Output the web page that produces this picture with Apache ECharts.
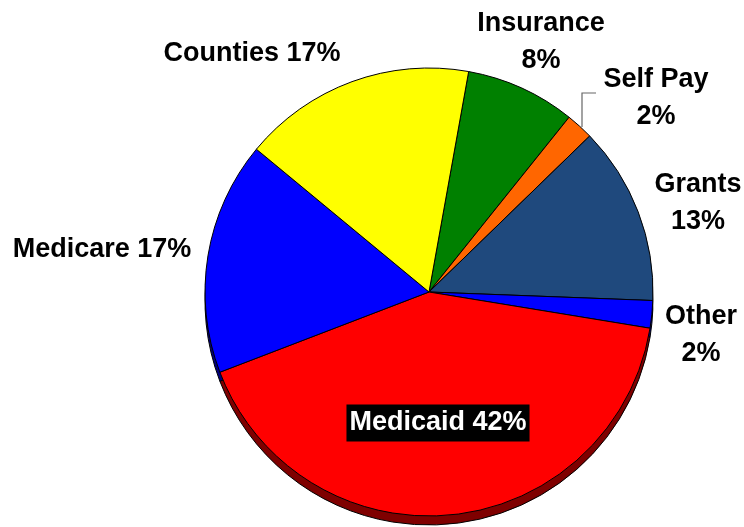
<!DOCTYPE html>
<html>
<head>
<meta charset="utf-8">
<script src="https://cdn.jsdelivr.net/npm/echarts@6/dist/echarts.min.js"></script>
<style>
  html, body { margin: 0; padding: 0; background: #fff; }
  #chart { width: 744px; height: 527px; }
</style>
</head>
<body>
<div id="chart"></div>
<script>
// Funding sources, percent of total (clockwise from Insurance)
const sources = ['Insurance', 'Self Pay', 'Grants', 'Other', 'Medicaid', 'Medicare', 'Counties'];
const shares = [8, 2, 13, 2, 42, 17, 17];
// Whether the label is split over two lines
const twoLine = [true, true, true, true, false, false, false];

const faceColors = ['#008000', '#FF6600', '#1F497D', '#0000FF', '#FF0000', '#0000FF', '#FFFF00'];
const edgeColors = ['#003f00', '#7f3300', '#0f243e', '#00007f', '#7f0000', '#00007f', '#7f7f00'];

// Label anchor points (centre of each label block)
const labelAnchors = [
  [541, 42], [656, 98], [698, 203], [701, 335], [438, 423], [102, 250], [252, 54]
];

const cx = 429, cy = 292, r = 224, depth = 9, start = 79.8;

const chart = echarts.init(document.getElementById('chart'), null, { renderer: 'canvas' });

const baseFont = {
  fontFamily: 'Liberation Sans, Arial, sans-serif',
  fontWeight: 'bold',
  fontSize: 27,
  color: '#000'
};

chart.setOption({
  animation: false,
  backgroundColor: '#fff',
  series: [
    {
      // pie thickness drawn underneath
      type: 'pie',
      silent: true,
      z: 1,
      center: [cx, cy + depth],
      radius: r,
      startAngle: start,
      label: { show: false },
      labelLine: { show: false },
      itemStyle: { borderColor: '#000', borderWidth: 1 },
      data: sources.map((n, i) => ({ name: n, value: shares[i], itemStyle: { color: edgeColors[i] } }))
    },
    {
      type: 'pie',
      z: 2,
      center: [cx, cy],
      radius: r,
      startAngle: start,
      avoidLabelOverlap: false,
      itemStyle: { borderColor: '#000', borderWidth: 1 },
      labelLine: { show: false },
      label: Object.assign({ show: true, position: 'outside', lineHeight: 37, align: 'center' }, baseFont),
      labelLayout: function (p) {
        const a = labelAnchors[p.dataIndex];
        return { x: a[0], y: a[1], align: 'center', verticalAlign: 'middle', hideOverlap: false };
      },
      data: sources.map((n, i) => {
        const item = {
          name: n,
          value: shares[i],
          itemStyle: { color: faceColors[i] },
          label: {
            formatter: twoLine[i] ? '{b}\n{c}%' : '{b} {c}%'
          }
        };
        if (n === 'Medicaid') {
          item.label = {
            position: 'inside',
            formatter: '{b} {c}%',
            color: '#fff',
            backgroundColor: '#000',
            padding: [3, 3, 2, 3],
            lineHeight: 32
          };
        }
        return item;
      })
    }
  ],
  graphic: [
    {
      // leader line for the small Self Pay slice
      type: 'polyline',
      z: 10,
      shape: { points: [[582, 127], [582, 93], [596, 93]] },
      style: { stroke: '#666', lineWidth: 1.2, fill: null }
    }
  ]
});
</script>
</body>
</html>
